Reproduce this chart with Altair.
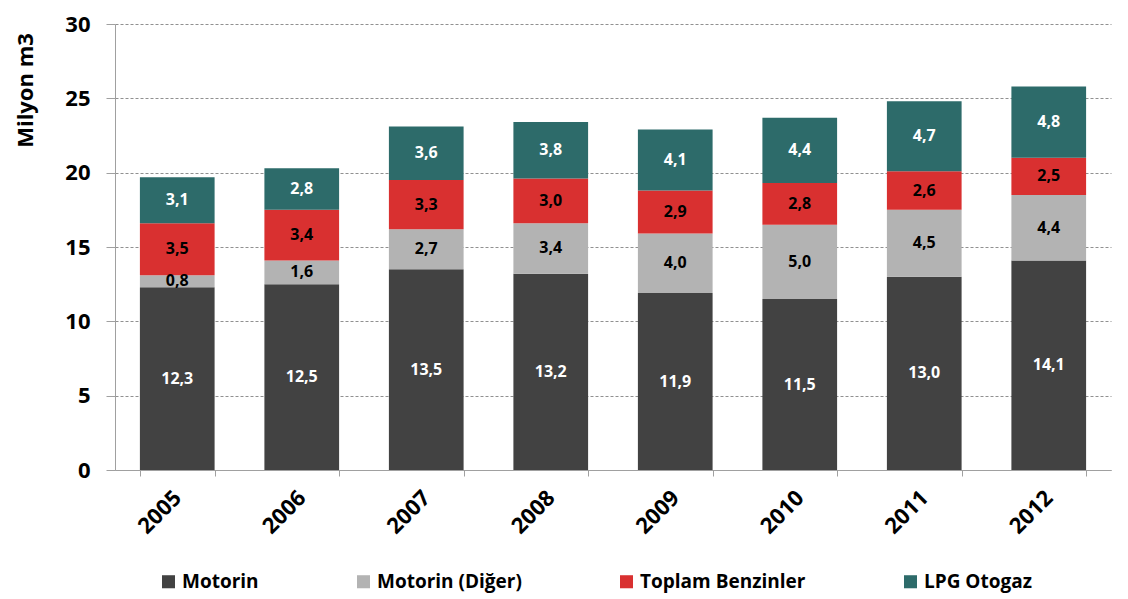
import altair as alt
import pandas as pd

years = ["2005", "2006", "2007", "2008", "2009", "2010", "2011", "2012"]
series = ["Motorin", "Motorin (Diğer)", "Toplam Benzinler", "LPG Otogaz"]
motorin = [12.3, 12.5, 13.5, 13.2, 11.9, 11.5, 13.0, 14.1]
motorin_diger = [0.8, 1.6, 2.7, 3.4, 4.0, 5.0, 4.5, 4.4]
benzin = [3.5, 3.4, 3.3, 3.0, 2.9, 2.8, 2.6, 2.5]
lpg = [3.1, 2.8, 3.6, 3.8, 4.1, 4.4, 4.7, 4.8]
colors = ["#424242", "#b3b3b3", "#d93030", "#2d6b6a"]
text_colors = ["white", "black", "black", "white"]

rows = []
for s_i, (name, vals) in enumerate(zip(series, [motorin, motorin_diger, benzin, lpg])):
    for y, v in zip(years, vals):
        rows.append({"year": y, "series": name, "value": v, "order": s_i,
                     "tcolor": text_colors[s_i]})
df = pd.DataFrame(rows)

FONT = "Open Sans"

base = alt.Chart(df).transform_stack(
    stack="value", groupby=["year"], as_=["y0", "y1"],
    sort=[alt.SortField("order", order="ascending")]
).transform_calculate(
    mid="(datum.y0 + datum.y1) / 2",
    label="replace(format(datum.value, '.1f'), '.', ',')"
)

x_enc = alt.X("year:N", title=None, sort=years,
              scale=alt.Scale(paddingInner=0.4, paddingOuter=0.2),
              axis=alt.Axis(labelAngle=-45, labelFontSize=22, labelFont=FONT,
                            labelFontWeight="bold", labelColor="black",
                            labelAlign="right", labelBaseline="middle",
                            labelPadding=18, domainColor="#a0a0a0", tickColor="#a0a0a0",
                            tickBand="extent", tickSize=6, grid=False))

bars = base.mark_bar().encode(
    x=x_enc,
    y=alt.Y("y0:Q", title="Milyon m3",
            scale=alt.Scale(domain=[0, 30]),
            axis=alt.Axis(values=[0, 5, 10, 15, 20, 25, 30], labelFontSize=22,
                          labelFont=FONT, labelFontWeight="bold", labelColor="black",
                          titleFontSize=22, titleFont=FONT, titleFontWeight="bold",
                          titleColor="black", titleX=-90, titleY=66,
                          titleAlign="center", titleBaseline="middle",
                          gridDash=[3, 2], gridColor="#909090",
                          domainColor="#a0a0a0", tickColor="#a0a0a0", tickSize=9,
                          labelPadding=16)),
    y2="y1:Q",
    color=alt.Color("series:N", sort=series,
                    scale=alt.Scale(domain=series, range=colors),
                    legend=alt.Legend(title=None, orient="none", legendX=44, legendY=548,
                                      direction="horizontal",
                                      columns=4, symbolType="square", symbolSize=170,
                                      labelFontSize=19, labelFont=FONT,
                                      labelFontWeight="bold", labelColor="black",
                                      labelLimit=400, columnPadding=95)),
)

labels = base.mark_text(fontSize=16, font=FONT, fontWeight="bold").encode(
    x=alt.X("year:N", sort=years),
    y="mid:Q",
    text="label:N",
    color=alt.Color("tcolor:N", scale=None),
)

chart = (bars + labels).properties(
    width=996, height=446,
    padding={"top": 5, "left": 6, "right": 5, "bottom": 5}
).configure_view(stroke=None).configure_axis(labelOverlap=False)

chart.save("out.html", embed_options={"renderer": "svg", "actions": False})
